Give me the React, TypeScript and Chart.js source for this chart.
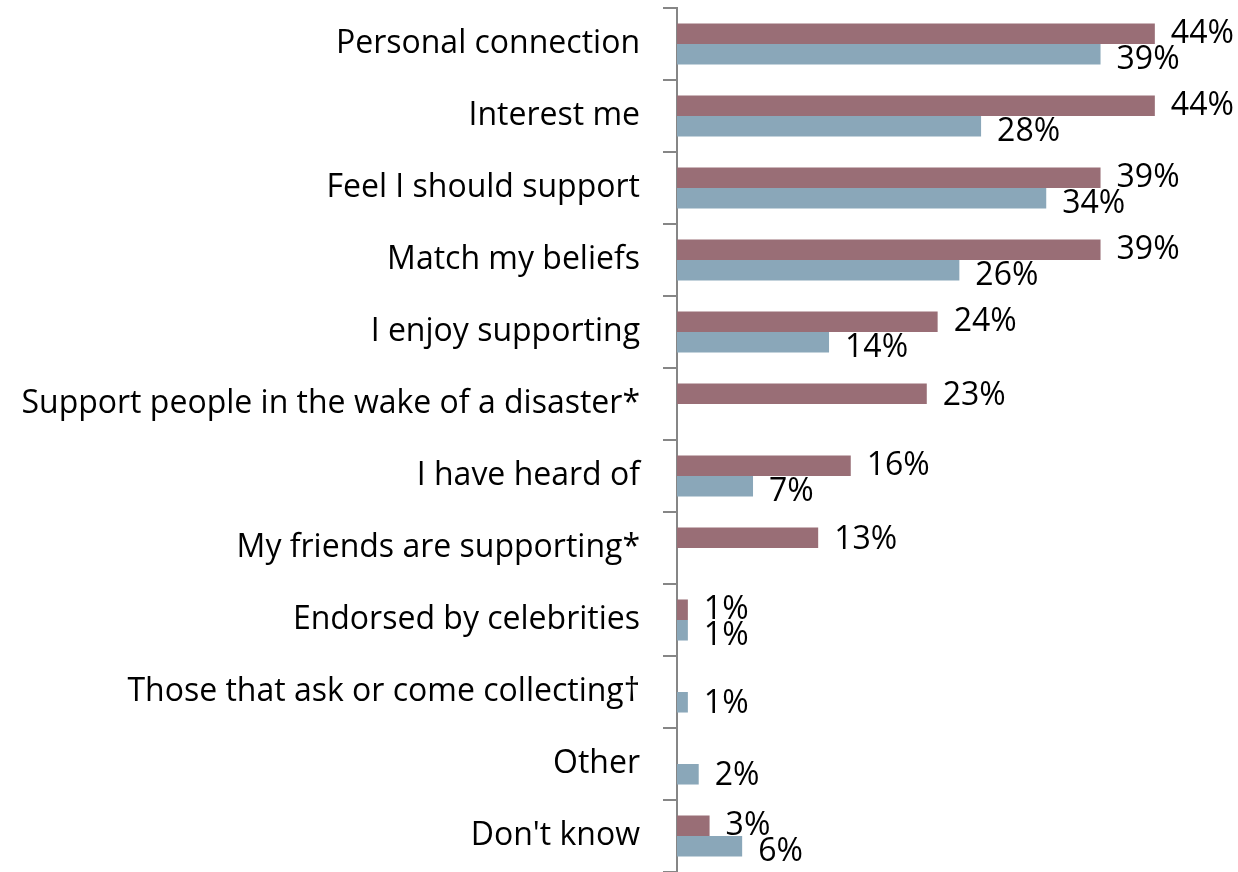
import React, { useEffect, useRef } from "react";
import { Chart, registerables } from "chart.js";

Chart.register(...registerables);

const categories = [
  "Personal connection",
  "Interest me",
  "Feel I should support",
  "Match my beliefs",
  "I enjoy supporting",
  "Support people in the wake of a disaster*",
  "I have heard of",
  "My friends are supporting*",
  "Endorsed by celebrities",
  "Those that ask or come collecting†",
  "Other",
  "Don't know",
];

const seriesA = [44, 44, 39, 39, 24, 23, 16, 13, 1, null, null, 3];
const seriesB = [39, 28, 34, 26, 14, null, 7, null, 1, 1, 2, 6];

const colorA = "#996e76";
const colorB = "#8aa7b9";
const FONT = "'Open Sans'";

const labelPlugin = {
  id: "valueLabels",
  afterDatasetsDraw(chart: any) {
    const ctx = chart.ctx;
    ctx.save();
    ctx.font = `32px ${FONT}`;
    ctx.fillStyle = "#000";
    ctx.textAlign = "left";
    ctx.textBaseline = "middle";
    chart.data.datasets.forEach((ds: any, di: number) => {
      const meta = chart.getDatasetMeta(di);
      meta.data.forEach((bar: any, i: number) => {
        const v = ds.data[i];
        if (v === null || v === undefined) return;
        const paired = seriesA[i] !== null && seriesB[i] !== null;
        const dy = paired ? (di === 0 ? 0 : 6) : 2;
        ctx.fillText(`${v}%`, bar.x + 16, bar.y + dy);
      });
    });
    ctx.restore();
  },
};

export default function App() {
  const ref = useRef<HTMLCanvasElement>(null);
  useEffect(() => {
    const chart = new Chart(ref.current!, {
      type: "bar",
      data: {
        labels: categories,
        datasets: [
          { data: seriesA, backgroundColor: colorA, barPercentage: 1, categoryPercentage: 0.57 },
          { data: seriesB, backgroundColor: colorB, barPercentage: 1, categoryPercentage: 0.57 },
        ],
      },
      options: {
        indexAxis: "y",
        animation: false,
        responsive: false,
        maintainAspectRatio: false,
        layout: { padding: { top: 8, right: 18, bottom: 0, left: 0 } },
        plugins: { legend: { display: false }, tooltip: { enabled: false } },
        scales: {
          x: { display: false, min: 0, max: 50 },
          y: {
            offset: true,
            afterFit(scale: any) {
              scale.width = 677;
              scale.paddingTop = 0;
              scale.paddingBottom = 0;
            },
            grid: {
              offset: true,
              drawOnChartArea: false,
              drawTicks: true,
              tickLength: 14,
              color: "#868686",
              lineWidth: 2,
            },
            border: { display: true, color: "#868686", width: 2 },
            ticks: {
              padding: 23,
              color: "#000",
              font: { family: FONT, size: 32 },
            },
          },
        },
      },
      plugins: [labelPlugin],
    });
    return () => chart.destroy();
  }, []);
  return (
    <div style={{ position: "fixed", left: 0, top: 0, width: 1238, height: 872, background: "#fff" }}>
      <canvas ref={ref} width={1238} height={872} />
    </div>
  );
}
